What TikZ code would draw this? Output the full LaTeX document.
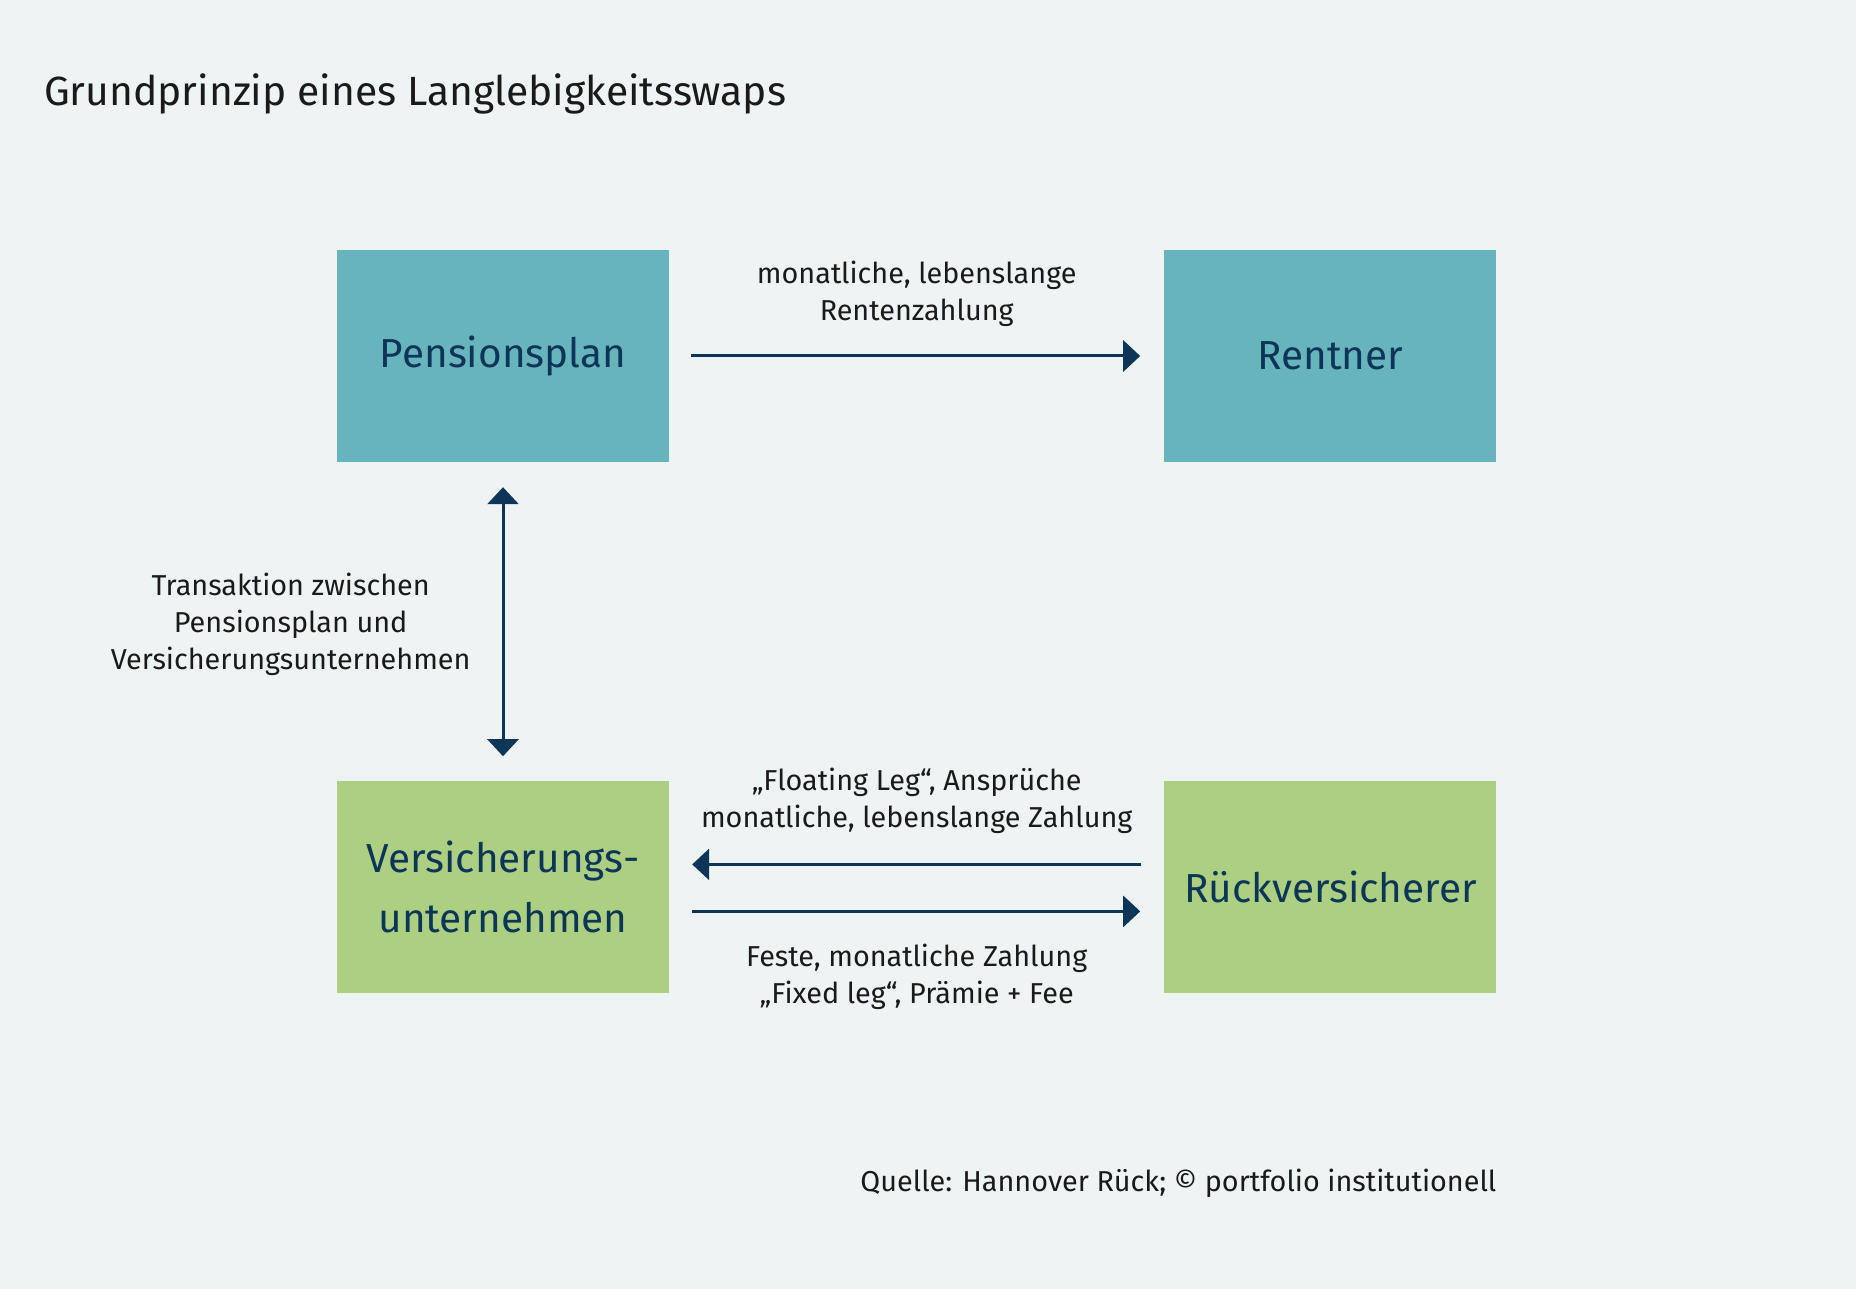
\documentclass[tikz,border=0pt]{standalone}
\usepackage{fontspec}
\setmainfont{Fira Sans}
\usetikzlibrary{positioning,arrows.meta}
\definecolor{bgcol}{HTML}{EEF4F3}
\definecolor{tealbox}{HTML}{68B4BD}
\definecolor{greenbox}{HTML}{ADCF82}
\definecolor{navy}{HTML}{0C3558}
\definecolor{labeltext}{HTML}{1A1A1A}

\begin{document}
\begin{tikzpicture}[x=1pt, y=1pt, ->, >={Triangle[length=17pt,width=31pt]}, node distance=319pt and 495pt,
  every edge/.style={draw=navy, line width=3pt},
  box/.style={minimum width=332pt, minimum height=212pt, inner sep=0pt, text=navy, font=\fontsize{40.5}{60}\selectfont, align=center},
  lbl/.style={inner sep=0pt, text=labeltext, font=\fontsize{28.8}{37}\selectfont, align=center}]
\useasboundingbox[fill=bgcol] (0,0) rectangle (1856,-1289);
\node[anchor=base west, lbl, font=\fontsize{40.8}{44}\selectfont] (title) at (44,-106) {Grundprinzip eines Langlebigkeitsswaps};
\node[box, fill=tealbox] (pp) at (503,-356) {Pensionsplan};
\node[box, fill=tealbox, right=of pp] (rent) {Rentner};
\node[box, fill=greenbox, below=of pp] (vu) {Versicherungs-\\unternehmen};
\node[box, fill=greenbox, right=of vu] (rv) {Rückversicherer};
\node[lbl, below left=175pt and 0pt of rv.south east] (src) {Quelle: Hannover Rück; © portfolio institutionell};

\path
  (pp) edge[shorten <=22pt, shorten >=24pt] node[lbl, above=28pt] {monatliche, lebenslange\\Rentenzahlung} (rent)
  (pp) edge[<->, shorten <=25pt, shorten >=25pt] node[lbl, left=31pt, yshift=-3pt] {Transaktion zwischen\\Pensionsplan und\\Versicherungsunternehmen} (vu)
  ([yshift=23pt]rv.west) edge[shorten <=23pt, shorten >=23pt] node[lbl, above=29pt] {„Floating Leg“, Ansprüche\\monatliche, lebenslange Zahlung} ([yshift=23pt]vu.east)
  ([yshift=-24pt]vu.east) edge[shorten <=23pt, shorten >=24pt] node[lbl, below=31pt] {Feste, monatliche Zahlung\\„Fixed leg“, Prämie + Fee} ([yshift=-24pt]rv.west)
;
\end{tikzpicture}
\end{document}
